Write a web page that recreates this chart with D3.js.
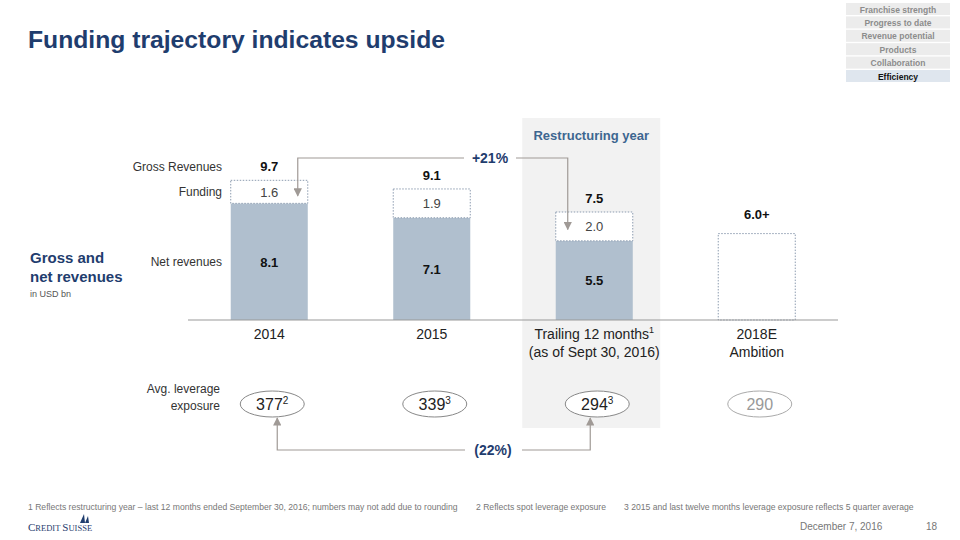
<!DOCTYPE html>
<html>
<head>
<meta charset="utf-8">
<script src="https://cdn.jsdelivr.net/npm/d3@7"></script>
<style>
  body { margin: 0; background: #fff; }
  svg { font-family: "Liberation Sans", Arial, sans-serif; }
</style>
</head>
<body>
<svg id="chart" width="960" height="540"></svg>
<script>
const categories = ["2014", "2015", "Trailing 12 months", "2018E"];
const categorySup = ["", "", "1", ""];
const categoryLine2 = ["", "", "(as of Sept 30, 2016)", "Ambition"];
const netRevenues = [8.1, 7.1, 5.5, null];
const funding = [1.6, 1.9, 2.0, null];
const grossRevenues = [9.7, 9.1, 7.5, 6.0];
const grossLabels = ["9.7", "9.1", "7.5", "6.0+"];
const leverage = [377, 339, 294, 290];
const leverageNotes = ["2", "3", "3", ""];
const navItems = ["Franchise strength", "Progress to date", "Revenue potential", "Products", "Collaboration", "Efficiency"];

const navy = "#1f3d6e";
const svg = d3.select("#chart");

const x = d3.scaleBand().domain(categories).range([188, 838]).paddingInner(0.526).paddingOuter(0.263);
const y = d3.scaleLinear().domain([0, 10]).range([320, 176]);
const cx = d => x(d) + x.bandwidth() / 2;

// Title
svg.append("text").attr("x", 28).attr("y", 48)
    .attr("font-size", 24.7).attr("font-weight", "bold").attr("fill", navy)
    .text("Funding trajectory indicates upside");

// Navigation boxes
navItems.forEach((n, i) => {
    const last = i === navItems.length - 1;
    svg.append("rect").attr("x", 846).attr("y", 3 + i * 13.4).attr("width", 104).attr("height", 12)
        .attr("fill", last ? "#dfe6ee" : "#ececec");
    svg.append("text").attr("x", 898).attr("y", 12.5 + i * 13.4).attr("text-anchor", "middle")
        .attr("font-size", 8.5).attr("font-weight", "bold").attr("fill", last ? "#111" : "#8c8c8c")
        .text(n);
});

// Restructuring year shading
svg.append("rect").attr("x", cx(categories[2]) - 72).attr("y", 118).attr("width", 138).attr("height", 310)
    .attr("fill", "#f2f2f2");
svg.append("text").attr("x", cx(categories[2]) - 3).attr("y", 140).attr("text-anchor", "middle")
    .attr("font-size", 13).attr("font-weight", "bold").attr("fill", "#3d6690")
    .text("Restructuring year");

// Left side labels
svg.append("text").attr("x", 30).attr("y", 263).attr("font-size", 15).attr("font-weight", "bold").attr("fill", navy).text("Gross and");
svg.append("text").attr("x", 30).attr("y", 282).attr("font-size", 15).attr("font-weight", "bold").attr("fill", navy).text("net revenues");
svg.append("text").attr("x", 30).attr("y", 297).attr("font-size", 9).attr("fill", "#555").text("in USD bn");

const rowLabel = (t, yy) => svg.append("text").attr("x", 222).attr("y", yy).attr("text-anchor", "end")
    .attr("font-size", 12).attr("fill", "#333").text(t);
rowLabel("Gross Revenues", y(grossRevenues[0]) - 9);
rowLabel("Funding", (y(grossRevenues[0]) + y(netRevenues[0])) / 2 + 4);
rowLabel("Net revenues", (y(0) + y(netRevenues[0])) / 2 + 4);

// Net revenue bars
const bars = categories.map((c, i) => ({ c, net: netRevenues[i], fund: funding[i], gross: grossRevenues[i], label: grossLabels[i] }));

svg.selectAll(".net").data(bars.filter(d => d.net != null)).enter().append("rect")
    .attr("x", d => x(d.c)).attr("y", d => y(d.net))
    .attr("width", x.bandwidth()).attr("height", d => y(0) - y(d.net))
    .attr("fill", "#b0bfce");

// Funding (dotted) boxes
svg.selectAll(".fund").data(bars.filter(d => d.fund != null)).enter().append("rect")
    .attr("x", d => x(d.c)).attr("y", d => y(d.gross))
    .attr("width", x.bandwidth()).attr("height", d => y(d.net) - y(d.gross))
    .attr("fill", "#fff").attr("stroke", "#8d9cb0").attr("stroke-width", 1).attr("stroke-dasharray", "1.5,1.5");

// Ambition box
svg.selectAll(".amb").data(bars.filter(d => d.net == null)).enter().append("rect")
    .attr("x", d => x(d.c)).attr("y", d => y(d.gross))
    .attr("width", x.bandwidth()).attr("height", d => y(0) - y(d.gross))
    .attr("fill", "#fff").attr("stroke", "#8d9cb0").attr("stroke-width", 1).attr("stroke-dasharray", "1.5,1.5");

// Value labels
svg.selectAll(".netlbl").data(bars.filter(d => d.net != null)).enter().append("text")
    .attr("x", d => cx(d.c)).attr("y", d => (y(0) + y(d.net)) / 2 + 5)
    .attr("text-anchor", "middle").attr("font-size", 13).attr("font-weight", "bold").attr("fill", "#111")
    .text(d => d.net.toFixed(1));
svg.selectAll(".fundlbl").data(bars.filter(d => d.fund != null)).enter().append("text")
    .attr("x", d => cx(d.c)).attr("y", d => (y(d.gross) + y(d.net)) / 2 + 5)
    .attr("text-anchor", "middle").attr("font-size", 13).attr("fill", "#444")
    .text(d => d.fund.toFixed(1));
svg.selectAll(".grosslbl").data(bars).enter().append("text")
    .attr("x", d => cx(d.c)).attr("y", d => y(d.gross) - (d.net == null ? 15 : 9))
    .attr("text-anchor", "middle").attr("font-size", 13).attr("font-weight", "bold").attr("fill", "#111")
    .text(d => d.label);

// Baseline axis
svg.append("line").attr("x1", 188).attr("x2", 838).attr("y1", y(0)).attr("y2", y(0))
    .attr("stroke", "#999").attr("stroke-width", 1);

// Category labels
categories.forEach((c, i) => {
    const t = svg.append("text").attr("x", cx(c)).attr("y", 339).attr("text-anchor", "middle")
        .attr("font-size", 14).attr("fill", "#222");
    t.append("tspan").text(c);
    if (categorySup[i]) t.append("tspan").attr("font-size", 9).attr("dy", -6).text(categorySup[i]);
    if (categoryLine2[i]) svg.append("text").attr("x", cx(c)).attr("y", 357).attr("text-anchor", "middle")
        .attr("font-size", 14).attr("fill", "#222").text(categoryLine2[i]);
});

// Arrow marker
svg.append("defs").append("marker").attr("id", "arr").attr("viewBox", "0 0 10 10")
    .attr("refX", 9).attr("refY", 5).attr("markerWidth", 7).attr("markerHeight", 7)
    .attr("orient", "auto-start-reverse")
    .append("path").attr("d", "M0,0 L10,5 L0,10 z").attr("fill", "#a09a96");

// +21% arrow (funding 2014 -> TTM)
const fy0 = (y(grossRevenues[0]) + y(netRevenues[0])) / 2 + 4;
const fy2 = (y(grossRevenues[2]) + y(netRevenues[2])) / 2 + 3;
const ax0 = x(categories[0]) + x.bandwidth() - 10;
const ax2 = x(categories[2]) + 12;
svg.append("path").attr("d", `M464,158 H${ax0} V${fy0}`).attr("fill", "none")
    .attr("stroke", "#a09a96").attr("stroke-width", 1.2).attr("marker-end", "url(#arr)");
svg.append("path").attr("d", `M516,158 H${ax2} V${fy2}`).attr("fill", "none")
    .attr("stroke", "#a09a96").attr("stroke-width", 1.2).attr("marker-end", "url(#arr)");
svg.append("text").attr("x", 490).attr("y", 163).attr("text-anchor", "middle")
    .attr("font-size", 14).attr("font-weight", "bold").attr("fill", navy).text("+21%");

// Leverage exposure
svg.append("text").attr("x", 220).attr("y", 393).attr("text-anchor", "end").attr("font-size", 12).attr("fill", "#333").text("Avg. leverage");
svg.append("text").attr("x", 220).attr("y", 410).attr("text-anchor", "end").attr("font-size", 12).attr("fill", "#333").text("exposure");

const lev = categories.map((c, i) => ({ c, v: leverage[i], n: leverageNotes[i], last: i === categories.length - 1 }));
svg.selectAll(".ell").data(lev).enter().append("ellipse")
    .attr("cx", d => cx(d.c) + 3).attr("cy", 404).attr("rx", 32).attr("ry", 13)
    .attr("fill", "#fff").attr("stroke", d => d.last ? "#aaa" : "#888").attr("stroke-width", 1);
lev.forEach(d => {
    const t = svg.append("text").attr("x", cx(d.c) + 3).attr("y", 410).attr("text-anchor", "middle")
        .attr("font-size", 16).attr("fill", d.last ? "#999" : "#222");
    t.append("tspan").text(d.v);
    if (d.n) t.append("tspan").attr("font-size", 10).attr("dy", -6).text(d.n);
});

// (22%) arrow
const lx0 = cx(categories[0]) + 8;
const lx2 = cx(categories[2]) - 4;
svg.append("path").attr("d", `M465,450 H${lx0} V418`).attr("fill", "none")
    .attr("stroke", "#a09a96").attr("stroke-width", 1.2).attr("marker-end", "url(#arr)");
svg.append("path").attr("d", `M522,450 H${lx2} V418`).attr("fill", "none")
    .attr("stroke", "#a09a96").attr("stroke-width", 1.2).attr("marker-end", "url(#arr)");
svg.append("text").attr("x", 493).attr("y", 455).attr("text-anchor", "middle")
    .attr("font-size", 14).attr("font-weight", "bold").attr("fill", navy).text("(22%)");

// Footnotes
const foot = (t, xx) => svg.append("text").attr("x", xx).attr("y", 510).attr("font-size", 8.6).attr("fill", "#777").text(t);
foot("1 Reflects restructuring year \u2013 last 12 months ended September 30, 2016; numbers may not add due to rounding", 28);
foot("2 Reflects spot leverage exposure", 476);
foot("3 2015 and last twelve months leverage exposure reflects 5 quarter average", 624);

// Logo and date
const logo = svg.append("text").attr("x", 28).attr("y", 531).attr("font-family", "Liberation Serif, serif")
    .attr("fill", navy);
logo.append("tspan").attr("font-size", 11).text("C");
logo.append("tspan").attr("font-size", 8.5).text("REDIT ");
logo.append("tspan").attr("font-size", 11).text("S");
logo.append("tspan").attr("font-size", 8.5).text("UISSE");
svg.append("path").attr("d", "M80,523 L84,514 L85,523 Z M85,523 L88,516 L89,523 Z").attr("fill", navy);
svg.append("text").attr("x", 800).attr("y", 530).attr("font-size", 10).attr("fill", "#777").text("December 7, 2016");
svg.append("text").attr("x", 926).attr("y", 530).attr("font-size", 10).attr("fill", "#777").text("18");
</script>
</body>
</html>
